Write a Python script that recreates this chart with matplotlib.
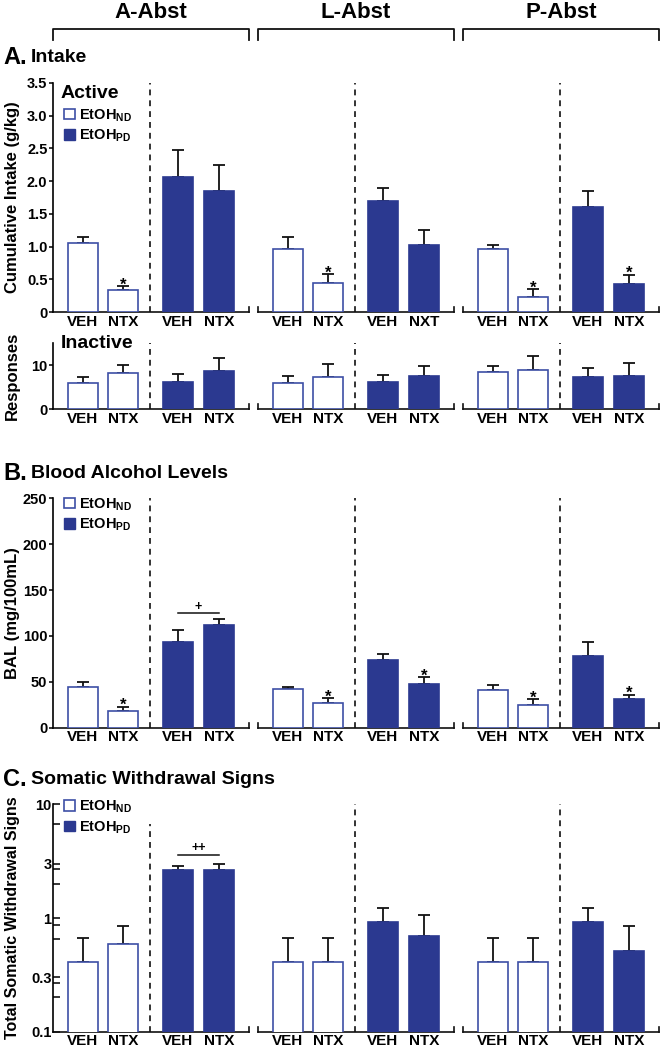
import numpy as np
import matplotlib
matplotlib.use("Agg")
import matplotlib.pyplot as plt
from matplotlib.patches import Patch
from matplotlib.transforms import blended_transform_factory

plt.rcParams['font.family'] = ['Liberation Sans', 'DejaVu Sans']
plt.rcParams['font.weight'] = 'bold'
plt.rcParams['axes.labelweight'] = 'bold'
plt.rcParams['mathtext.fontset'] = 'custom'
plt.rcParams['mathtext.rm'] = 'Liberation Sans:bold'
plt.rcParams['mathtext.bf'] = 'Liberation Sans:bold'

# order inside each group: EtOH_ND VEH, EtOH_ND NTX, EtOH_PD VEH, EtOH_PD NTX
groups = ['A-Abst', 'L-Abst', 'P-Abst']

active_mean = [1.06, 0.34, 2.06, 1.85, 0.96, 0.44, 1.70, 1.02, 0.97, 0.23, 1.60, 0.43]
active_sem = [0.09, 0.05, 0.42, 0.39, 0.18, 0.14, 0.20, 0.24, 0.06, 0.12, 0.25, 0.14]
active_labels = ['VEH', 'NTX', 'VEH', 'NTX', 'VEH', 'NTX', 'VEH', 'NXT', 'VEH', 'NTX', 'VEH', 'NTX']
active_stars = [1, 5, 9, 11]
active_ticks = ['0', '0.5', '1.0', '1.5', '2.0', '2.5', '3.0', '3.5']

inactive_mean = [5.8, 8.1, 6.2, 8.6, 6.0, 7.3, 6.1, 7.5, 8.4, 8.8, 7.3, 7.5]
inactive_sem = [1.4, 1.9, 1.7, 2.9, 1.5, 2.9, 1.7, 2.3, 1.3, 3.3, 2.1, 2.9]

bal_mean = [44, 18.5, 93, 112, 42.5, 27, 74, 47.6, 40.7, 24.4, 78.5, 31.6]
bal_sem = [6, 4.5, 14, 6.5, 2.2, 5, 6.8, 7.6, 5.5, 6.9, 14.5, 4.4]
bal_stars = [1, 5, 7, 9, 11]
bal_bracket = 125
bal_ticks = [0, 50, 100, 150, 200, 250]

som_mean = [0.41, 0.59, 2.63, 2.66, 0.41, 0.41, 0.92, 0.70, 0.41, 0.41, 0.92, 0.51]
som_sem = [0.26, 0.255, 0.25, 0.31, 0.26, 0.26, 0.30, 0.36, 0.26, 0.26, 0.30, 0.345]
som_bracket = 3.6
som_ticks = [0.1, 0.3, 1, 3, 10]
som_minor = [0.2, 0.27, 0.65, 0.86, 2, 2.7, 6.7]

std_labels = ['VEH', 'NTX'] * 6

FILL = '#2b3990'
EDGE = '#3d4fa6'

pos_in_group = np.array([0, 1, 2.375, 3.4])
group_step = 5.125
x = np.concatenate([pos_in_group + g * group_step for g in range(3)])
is_pd = np.array([False, False, True, True] * 3)

W, H = 660, 1050
fig = plt.figure(figsize=(6.6, 10.5), dpi=100)


def make_ax(top_px, bottom_px):
    return fig.add_axes([53 / W, 1 - bottom_px / H, 605 / W, (bottom_px - top_px) / H])


def draw_panel(ax, mean, sem, labels, ylim, log=False, dash_top=None):
    if log:
        ax.set_yscale('log')
    mean = np.array(mean)
    sem = np.array(sem)
    face = np.where(is_pd, FILL, 'white')
    edge = np.where(is_pd, FILL, EDGE)
    ax.bar(x, mean, width=0.75, color=face, edgecolor=edge, linewidth=1.2, zorder=3)
    ax.errorbar(x, mean, yerr=[np.zeros_like(sem), sem], fmt='none', ecolor='#111111',
                elinewidth=1.3, capsize=4.5, capthick=1.3, zorder=2)
    ax.set_xlim(-0.75, 14.375)
    ax.set_ylim(*ylim)
    for s in ['top', 'right', 'bottom']:
        ax.spines[s].set_visible(False)
    ax.spines['left'].set_linewidth(1.2)
    ax.set_xticks(x, labels, fontsize=11, fontweight='bold')
    ax.tick_params(axis='x', length=0, pad=2)
    ax.tick_params(axis='y', labelsize=10.5, width=1.1, length=3, pad=1)

    # broken baseline for each group
    trans = ax.get_xaxis_transform()
    h = 5 / ax.bbox.height
    for g in range(3):
        x0 = -0.75 + g * group_step
        x1 = 4.15 + g * group_step
        ax.plot([x0, x1], [0, 0], transform=trans, color='#111111', lw=1.2, clip_on=False)
        ax.plot([x1, x1], [0, h], transform=trans, color='#111111', lw=1.2, clip_on=False)
        if g > 0:
            ax.plot([x0, x0], [0, h], transform=trans, color='#111111', lw=1.2, clip_on=False)
        top = 1.0
        if dash_top is not None and g == 0:
            top = dash_top
        ax.axvline(1.675 + g * group_step, ymin=0, ymax=top, color='#111111', lw=1.2,
                   ls=(0, (3.5, 3)))
    return mean, sem


def set_yticks(ax, ticks, labels):
    ax.set_yticks(ticks, labels, fontsize=10.5, fontweight='bold')


def add_stars(ax, mean, sem, idx):
    for i in idx:
        ax.annotate('*', (x[i], mean[i] + sem[i]), xytext=(0, -2.5), textcoords='offset points',
                    ha='center', va='baseline', fontsize=12)


def add_bracket(ax, yval, text):
    ax.plot([x[2], x[3]], [yval, yval], color='#111111', lw=1.1)
    ax.annotate(text, ((x[2] + x[3]) / 2, yval), xytext=(0, 2.5), textcoords='offset points',
                ha='center', va='baseline', fontsize=9)


def add_legend(ax, anchor):
    handles = [Patch(facecolor='white', edgecolor=EDGE, linewidth=1.2),
               Patch(facecolor=FILL, edgecolor=FILL)]
    ax.legend(handles, ['EtOH$_{\\mathbf{ND}}$', 'EtOH$_{\\mathbf{PD}}$'], loc='upper left',
              bbox_to_anchor=anchor, frameon=False, fontsize=10.5, handlelength=0.75,
              handleheight=0.75, handletextpad=0.3, labelspacing=0.25, borderpad=0,
              borderaxespad=0)


def panel_title(y_px, letter, name):
    fig.text(3 / W, 1 - y_px / H, letter, fontsize=17, va='center')
    fig.text(31 / W, 1 - y_px / H, name, fontsize=14, va='center')


# ---- A. Intake, active
ax_act = make_ax(83, 312)
m, s = draw_panel(ax_act, active_mean, active_sem, active_labels, (0, 3.5))
set_yticks(ax_act, np.arange(0, 3.51, 0.5), active_ticks)
add_stars(ax_act, m, s, active_stars)
ax_act.set_ylabel('Cumulative Intake (g/kg)', fontsize=12)
ax_act.text(8 / 605, 0.956, 'Active', transform=ax_act.transAxes, fontsize=14, va='center')
add_legend(ax_act, (0.018, 0.895))

# ---- inactive
ax_in = make_ax(343, 409)
draw_panel(ax_in, inactive_mean, inactive_sem, std_labels, (0, 15))
set_yticks(ax_in, [0, 10], ['0', '10'])
ax_in.set_ylabel('Responses', fontsize=12)
ax_in.text(8 / 605, 1.0, 'Inactive', transform=ax_in.transAxes, fontsize=14, va='center')

# ---- B. BAL
ax_b = make_ax(498.3, 727.7)
m, s = draw_panel(ax_b, bal_mean, bal_sem, std_labels, (0, 250))
set_yticks(ax_b, bal_ticks, [str(t) for t in bal_ticks])
add_stars(ax_b, m, s, bal_stars)
add_bracket(ax_b, bal_bracket, '+')
ax_b.set_ylabel('BAL (mg/100mL)', fontsize=12)
add_legend(ax_b, (0.018, 1.01))

# ---- C. Somatic
ax_c = make_ax(804.3, 1031.7)
draw_panel(ax_c, som_mean, som_sem, std_labels, (0.1, 10), log=True, dash_top=0.913)
set_yticks(ax_c, som_ticks, [f'{t:g}' for t in som_ticks])
ax_c.set_yticks(som_minor, minor=True)
ax_c.yaxis.set_minor_formatter(plt.NullFormatter())
ax_c.tick_params(axis='y', which='both', direction='in', length=5, width=1.1)
add_bracket(ax_c, som_bracket, '++')
ax_c.set_ylabel('Total Somatic Withdrawal Signs', fontsize=11.5)
add_legend(ax_c, (0.018, 1.025))

for ax in [ax_act, ax_in, ax_b, ax_c]:
    ax.yaxis.set_label_coords(-0.054, 0.5)

panel_title(58, 'A.', 'Intake')
panel_title(474, 'B.', 'Blood Alcohol Levels')
panel_title(779, 'C.', 'Somatic Withdrawal Signs')

# group headers with brackets
tr = blended_transform_factory(ax_act.transData, fig.transFigure)
for g, name in enumerate(groups):
    x0 = -0.75 + g * group_step
    x1 = 4.15 + g * group_step
    ax_act.plot([x0, x0, x1, x1], [1 - 40 / H, 1 - 29 / H, 1 - 29 / H, 1 - 40 / H],
                transform=tr, color='#111111', lw=1.3, clip_on=False)
    ax_act.text((x0 + x1) / 2, 1 - 13 / H, name, transform=tr, ha='center', va='center',
                fontsize=16)

fig.savefig('out.png', dpi=100)
